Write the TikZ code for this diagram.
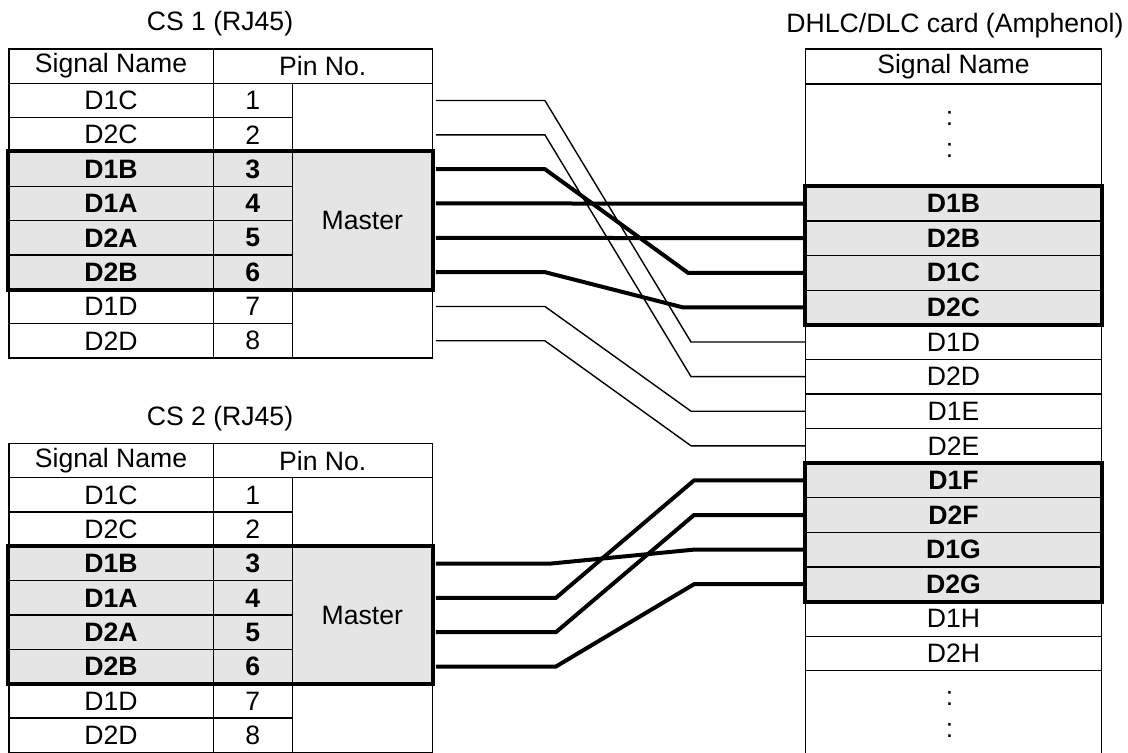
\documentclass[tikz,border=0pt]{standalone}
\usepackage{fontspec}
\setmainfont{Liberation Sans}
\usetikzlibrary{calc}

\newcommand{\cellfont}{\fontsize{13.3}{16}\selectfont}

\tikzset{
  cell/.style = {draw, line width = 0.6pt, anchor = north west, inner sep = 0pt, minimum height = 17.17pt},
  hot/.style = {fill = black!10, font = \cellfont\bfseries},
  cold/.style = {},
  wire/.style = {line width = 0.7pt},
  bus/.style = {line width = 2pt},
  frame/.style = {line width = 2pt},
}

\begin{document}
\begin{tikzpicture}[x = 0.5pt, y = -0.5pt, font = \cellfont]
\useasboundingbox (0,0) rectangle (1128,752);

\foreach \n/\dy in {1/0, 2/394.4} {
  \node (cs\n-title) at (220, 24+\dy) {CS \n\ (RJ45)};
  \node[cell, minimum width = 102.2pt, minimum height = 17.2pt] (cs\n-h1) at (8.3, 48.3+\dy) {Signal Name};
  \node[cell, minimum width = 109.5pt, minimum height = 17.2pt] (cs\n-h2) at (212.7, 48.3+\dy) {Pin No.};
  \foreach \k/\s/\st in {1/D1C/cold, 2/D2C/cold, 3/D1B/hot, 4/D1A/hot, 5/D2A/hot, 6/D2B/hot, 7/D1D/cold, 8/D2D/cold} {
    \node[cell, \st, minimum width = 102.2pt] (cs\n-s\k) at (8.3, 82.7+34.33*\k-34.33+\dy) {\s};
    \node[cell, \st, minimum width = 39.5pt] (cs\n-p\k) at (212.7, 82.7+34.33*\k-34.33+\dy) {\k};
  }
  \node[cell, minimum width = 70pt, minimum height = 34.33pt] (cs\n-b1) at (291.7, 82.7+\dy) {};
  \node[cell, fill = black!10, minimum width = 70pt, minimum height = 68.67pt] (cs\n-m) at (291.7, 151.4+\dy) {Master};
  \node[cell, minimum width = 70pt, minimum height = 34.33pt] (cs\n-b2) at (291.7, 288.7+\dy) {};
  \draw[frame] (cs\n-s3.north west) rectangle (cs\n-m.south east);
}

\node (dlc-title) at (955, 26) {DHLC/DLC card (Amphenol)};
\node[cell, minimum width = 147.85pt, minimum height = 17.5pt] (dlc-h) at (805, 48.3) {Signal Name};
\node[cell, minimum width = 147.85pt, minimum height = 51.2pt] (dlc-top) at (805, 83.3) {};
\foreach \k/\s/\st in {1/D1B/hot, 2/D2B/hot, 3/D1C/hot, 4/D2C/hot, 5/D1D/cold, 6/D2D/cold, 7/D1E/cold, 8/D2E/cold, 9/D1F/hot, 10/D2F/hot, 11/D1G/hot, 12/D2G/hot, 13/D1H/cold, 14/D2H/cold}
  \node[cell, \st, minimum width = 147.85pt, minimum height = 17.3pt] (dlc-\s) at (805, 185.7+34.6*\k-34.6) {\s};
\node[cell, minimum width = 147.85pt, minimum height = 45pt] (dlc-bot) at (805, 670.1) {};
\foreach \i/\y in {1/125, 2/157, 3/705, 4/737}
  \node[anchor = base, inner sep = 0pt] (dlc-c\i) at (949.5, \y) {:};
\draw[frame] (dlc-D1B.north west) rectangle (dlc-D2C.south east);
\draw[frame] (dlc-D1F.north west) rectangle (dlc-D2G.south east);

\foreach \a/\b/\p/\q/\st in {1/D1D/109/114/wire, 2/D2D/109/114/wire, 7/D1E/109/114/wire, 8/D2E/109/114/wire, 3/D1C/109/117/bus, 4/D1B/109/117/bus, 5/D2B/109/117/bus, 6/D2C/109/122/bus}
  \draw[\st] ($(cs1-s\a -| cs1-m.east)+(3,0)$) -- ++(\p,0) -- ($(dlc-\b.west)+(-\q,0)$) -- (dlc-\b.west);

\foreach \a/\b/\p in {3/D1G/115, 4/D1F/120, 5/D2F/120, 6/D2G/120}
  \draw[bus] ($(cs2-s\a -| cs2-m.east)+(3,0)$) -- ++(\p,0) -- ($(dlc-\b.west)+(-111,0)$) -- (dlc-\b.west);
\end{tikzpicture}
\end{document}
